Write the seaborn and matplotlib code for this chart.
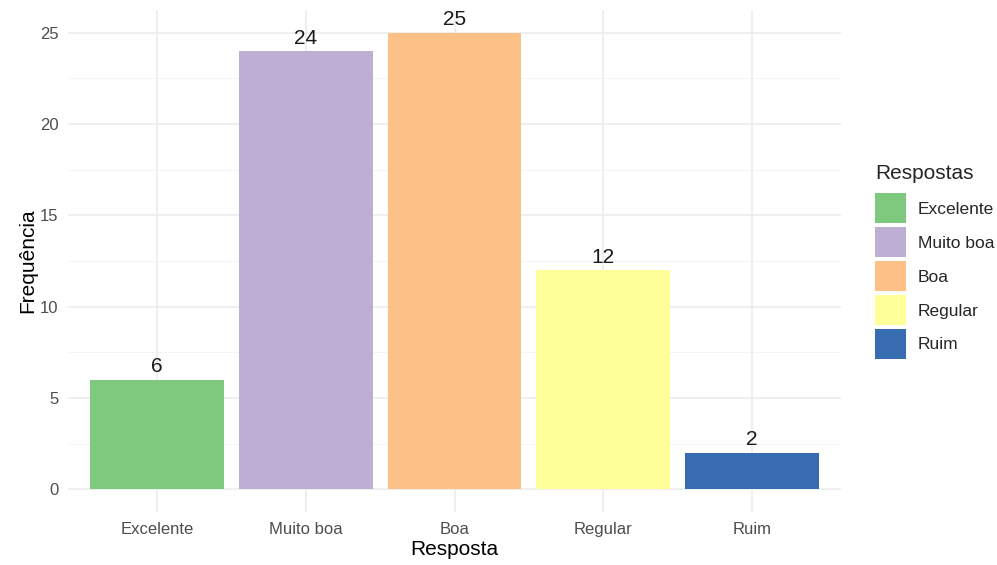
import matplotlib
matplotlib.use("Agg")
import matplotlib.pyplot as plt
import seaborn as sns
import pandas as pd
from matplotlib.patches import Patch
from matplotlib.ticker import MultipleLocator

categories = ["Excelente", "Muito boa", "Boa", "Regular", "Ruim"]
values = [6, 24, 25, 12, 2]
colors = ["#7FC97F", "#BEAED4", "#FDC086", "#FFFF99", "#386CB0"]

sns.set_theme(style="whitegrid")
plt.rcParams["font.family"] = ["Liberation Sans", "DejaVu Sans"]

df = pd.DataFrame({"Resposta": categories, "Frequencia": values})

fig = plt.figure(figsize=(9.97, 5.65), dpi=100)
ax = fig.add_axes([68/997, 1 - 512/565, (841-68)/997, (512-10)/565])

sns.barplot(data=df, x="Resposta", y="Frequencia", hue="Resposta",
            order=categories, hue_order=categories, palette=colors,
            width=0.9, saturation=1, legend=False, ax=ax, edgecolor="none")

for i, v in enumerate(values):
    ax.annotate(str(v), (i, v), xytext=(0, 2.5), textcoords="offset points",
                ha="center", va="bottom", fontsize=15, color="#1a1a1a")

ax.set_xlim(-0.6, 4.6)
ax.set_ylim(-1.25, 26.25)
ax.yaxis.set_major_locator(MultipleLocator(5))
ax.yaxis.set_minor_locator(MultipleLocator(2.5))
ax.grid(True, which="major", color="#EBEBEB", linewidth=1.1)
ax.grid(True, which="minor", axis="y", color="#F2F2F2", linewidth=0.6)
ax.set_axisbelow(True)
for s in ax.spines.values():
    s.set_visible(False)
ax.set_facecolor("white")
ax.tick_params(axis="both", which="both", length=0, labelsize=12, labelcolor="#4D4D4D")
ax.tick_params(axis="x", pad=7.5)
ax.tick_params(axis="y", pad=7)
ax.set_xlabel("Resposta", fontsize=15, color="black", labelpad=2)
ax.set_ylabel("Frequência", fontsize=15, color="black", labelpad=1.5)

handles = [Patch(facecolor=c, edgecolor="none", label=l) for c, l in zip(colors, categories)]
leg = fig.legend(handles=handles, title="Respostas", loc="upper left",
                 bbox_to_anchor=(875/997, 1 - 164/565), frameon=False,
                 fontsize=12.5, title_fontsize=15, handlelength=1.78, handleheight=2.275,
                 labelspacing=0.23, handletextpad=0.69, borderaxespad=0, borderpad=0)
leg._legend_box.align = "left"
leg._legend_box.sep = 7.5

fig.savefig("out.png", dpi=100)
